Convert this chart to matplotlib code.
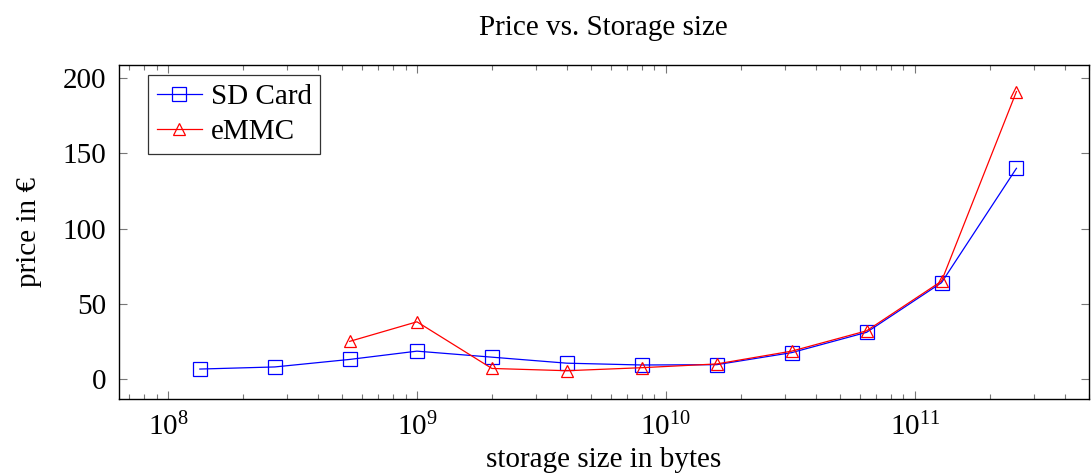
import matplotlib
matplotlib.use('Agg')
import matplotlib.pyplot as plt
from matplotlib.ticker import LogLocator, NullFormatter

plt.rcParams['font.family'] = ['Liberation Serif', 'DejaVu Serif']
plt.rcParams['mathtext.fontset'] = 'stix'

# storage sizes in bytes
sd_sizes = [2**27, 2**28, 2**29, 1e9, 2e9, 4e9, 8e9, 16e9, 32e9, 64e9, 128e9, 256e9]
sd_prices = [6.6, 8.0, 13.0, 18.5, 14.5, 10.5, 9.3, 9.5, 17.5, 31.0, 64.0, 140.0]

emmc_sizes = [2**29, 1e9, 2e9, 4e9, 8e9, 16e9, 32e9, 64e9, 128e9, 256e9]
emmc_prices = [25.0, 38.0, 7.0, 5.5, 7.5, 10.0, 18.5, 32.0, 65.0, 191.0]

fig = plt.figure(figsize=(10.91, 4.75), dpi=100)
ax = fig.add_axes([0.109, 0.16, 0.889, 0.703])

ax.plot(sd_sizes, sd_prices, color='blue', lw=0.9, marker='s', ms=9.5,
        mfc='none', mec='blue', mew=0.9, label='SD Card')
ax.plot(emmc_sizes, emmc_prices, color='red', lw=0.9, marker='^', ms=9,
        mfc='none', mec='red', mew=0.9, label='eMMC')

ax.set_xscale('log')
ax.set_xlim(6.35e7, 5.0e11)
ax.set_ylim(-13.3, 208.6)
ax.set_yticks([0, 50, 100, 150, 200])
ax.xaxis.set_major_locator(LogLocator(base=10, numticks=10))
ax.xaxis.set_minor_locator(LogLocator(base=10, subs=range(2, 10), numticks=50))
ax.xaxis.set_minor_formatter(NullFormatter())

ax.tick_params(which='both', direction='in', top=True, right=True,
               labelsize=21, color='#777777')
ax.tick_params(which='major', length=6, width=0.8)
ax.tick_params(which='minor', length=3.5, width=0.8)
ax.tick_params(axis='x', pad=10)
ax.tick_params(axis='y', pad=9)
for s in ax.spines.values():
    s.set_linewidth(1.0)

ax.set_title('Price vs. Storage size', fontsize=21, pad=22)
ax.set_xlabel('storage size in bytes', fontsize=21, labelpad=4)
ax.set_ylabel('price in €', fontsize=21, labelpad=15)

leg = ax.legend(loc='upper left', fontsize=21, frameon=True, fancybox=False,
                edgecolor='black', borderaxespad=0, handlelength=1.55,
                borderpad=0.3, labelspacing=0.3, handletextpad=0.3,
                bbox_to_anchor=(0.030, 0.970))
leg.get_frame().set_linewidth(0.9)

fig.savefig('out.png', dpi=100)
